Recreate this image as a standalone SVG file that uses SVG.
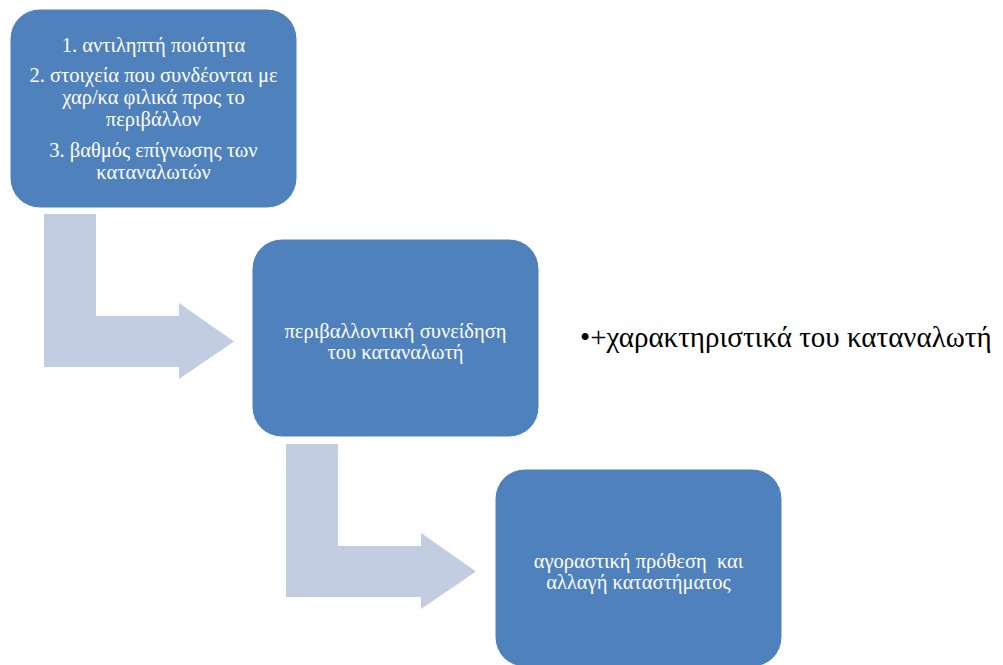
<svg xmlns="http://www.w3.org/2000/svg" width="1003" height="665" viewBox="0 0 1003 665">
<defs>
<path id="bent" d="M0,0 H52 V102 H135 V89 L190,127.5 L135,165 V153 H0 Z"/>
</defs>
<rect width="1003" height="665" fill="#ffffff"/>
<g id="connectors" fill="#c3cde2">
<use href="#bent" x="44" y="214"/>
<use href="#bent" x="286" y="444"/>
</g>
<g id="node1">
<rect x="10" y="9" width="287" height="199" rx="30" ry="30" fill="#4f81bd" stroke="#ffffff"/>
<text x="153.5" y="52" font-family="Liberation Serif, Times New Roman, serif" font-size="20.5" fill="#ffffff" text-anchor="middle">1. αντιληπτή ποιότητα</text>
<text x="153.5" y="82" font-family="Liberation Serif, Times New Roman, serif" font-size="20.5" fill="#ffffff" text-anchor="middle">2. στοιχεία που συνδέονται με</text>
<text x="153.5" y="104" font-family="Liberation Serif, Times New Roman, serif" font-size="20.5" fill="#ffffff" text-anchor="middle">χαρ/κα φιλικά προς το</text>
<text x="153.5" y="126" font-family="Liberation Serif, Times New Roman, serif" font-size="20.5" fill="#ffffff" text-anchor="middle">περιβάλλον</text>
<text x="153.5" y="157" font-family="Liberation Serif, Times New Roman, serif" font-size="20.5" fill="#ffffff" text-anchor="middle">3. βαθμός επίγνωσης των</text>
<text x="153.5" y="179" font-family="Liberation Serif, Times New Roman, serif" font-size="20.5" fill="#ffffff" text-anchor="middle">καταναλωτών</text>
</g>
<g id="node2">
<rect x="252" y="239" width="287" height="198" rx="30" ry="30" fill="#4f81bd" stroke="#ffffff"/>
<text x="395.5" y="338" font-family="Liberation Serif, Times New Roman, serif" font-size="20.5" fill="#ffffff" text-anchor="middle">περιβαλλοντική συνείδηση</text>
<text x="395.5" y="359" font-family="Liberation Serif, Times New Roman, serif" font-size="20.5" fill="#ffffff" text-anchor="middle">του καταναλωτή</text>
</g>
<g id="node3">
<rect x="495" y="469" width="287" height="198" rx="30" ry="30" fill="#4f81bd" stroke="#ffffff"/>
<text x="638.5" y="568" font-family="Liberation Serif, Times New Roman, serif" font-size="20.5" fill="#ffffff" text-anchor="middle" xml:space="preserve">αγοραστική πρόθεση  και</text>
<text x="638.5" y="589" font-family="Liberation Serif, Times New Roman, serif" font-size="20.5" fill="#ffffff" text-anchor="middle">αλλαγή καταστήματος</text>
</g>
<g id="note">
<text x="580" y="347" font-family="Liberation Serif, Times New Roman, serif" font-size="29" fill="#000000">•+χαρακτηριστικά του καταναλωτή</text>
</g>
</svg>
